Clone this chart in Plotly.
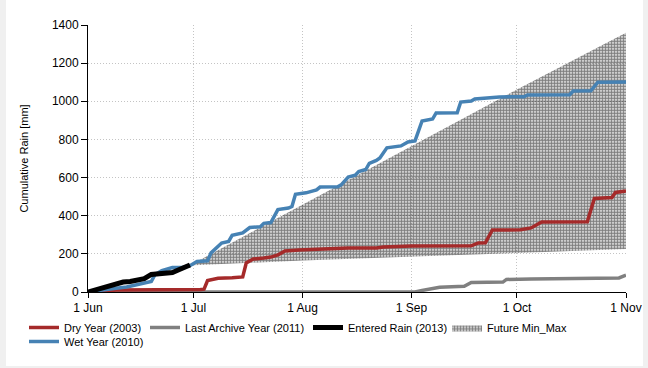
import plotly.graph_objects as go

# ---------------- data ----------------
wet_dates = ["2013-06-01", "2013-06-05", "2013-06-09", "2013-06-12", "2013-06-16", "2013-06-19",
             "2013-06-20", "2013-06-22", "2013-06-25", "2013-06-28", "2013-06-30", "2013-07-02",
             "2013-07-05", "2013-07-06", "2013-07-09", "2013-07-11", "2013-07-12", "2013-07-15",
             "2013-07-17", "2013-07-20", "2013-07-21", "2013-07-23", "2013-07-25", "2013-07-28",
             "2013-07-29", "2013-07-30", "2013-08-02", "2013-08-05", "2013-08-06", "2013-08-11",
             "2013-08-12", "2013-08-14", "2013-08-16", "2013-08-17", "2013-08-19", "2013-08-20",
             "2013-08-22", "2013-08-23", "2013-08-25", "2013-08-29", "2013-08-31", "2013-09-02",
             "2013-09-04", "2013-09-07", "2013-09-08", "2013-09-14", "2013-09-15", "2013-09-18",
             "2013-09-19", "2013-09-26", "2013-10-03", "2013-10-04", "2013-10-16", "2013-10-17",
             "2013-10-22", "2013-10-24", "2013-11-01"]
wet_values = [0, 12, 20, 26, 40, 55, 90, 112, 128, 130, 138, 160, 164, 205, 257, 265, 298, 310,
              338, 342, 360, 364, 432, 440, 448, 512, 520, 535, 550, 552, 562, 603, 612, 632, 642,
              675, 690, 703, 756, 766, 787, 792, 897, 907, 939, 940, 996, 1001, 1012, 1023, 1024,
              1033, 1034, 1054, 1055, 1100, 1101]

dry_dates = ["2013-06-01", "2013-06-06", "2013-06-09", "2013-07-03", "2013-07-04", "2013-07-05",
             "2013-07-08", "2013-07-12", "2013-07-15", "2013-07-16", "2013-07-18", "2013-07-21",
             "2013-07-23", "2013-07-25", "2013-07-27", "2013-07-31", "2013-08-08", "2013-08-14",
             "2013-08-22", "2013-08-24", "2013-09-01", "2013-09-18", "2013-09-20", "2013-09-22",
             "2013-09-24", "2013-10-02", "2013-10-05", "2013-10-08", "2013-10-21", "2013-10-23",
             "2013-10-28", "2013-10-29", "2013-11-01"]
dry_values = [0, 5, 10, 13, 15, 60, 72, 75, 79, 152, 173, 178, 183, 194, 215, 220, 225, 231,
              231, 236, 241, 242, 257, 258, 325, 326, 336, 367, 368, 490, 495, 522, 530]

archive_dates = ["2013-06-01", "2013-09-02", "2013-09-04", "2013-09-06", "2013-09-09", "2013-09-16",
                 "2013-09-18", "2013-09-27", "2013-09-28", "2013-10-05", "2013-10-16", "2013-10-30",
                 "2013-11-01"]
archive_values = [0, 0, 8, 15, 25, 30, 50, 52, 66, 68, 72, 74, 88]

entered_dates = ["2013-06-01", "2013-06-03", "2013-06-05", "2013-06-07", "2013-06-09", "2013-06-11",
                 "2013-06-13", "2013-06-15", "2013-06-17", "2013-06-19", "2013-06-21", "2013-06-23",
                 "2013-06-25", "2013-06-27", "2013-06-29", "2013-06-30"]
entered_values = [0, 10, 25, 35, 40, 52, 55, 62, 70, 92, 97, 100, 102, 118, 130, 142]

band_dates = ["2013-07-01", "2013-08-01", "2013-09-01", "2013-10-01", "2013-11-01"]
band_upper = [150, 458, 765, 1062, 1360]
band_lower = [140, 165, 185, 205, 225]

y_ticks = [0, 200, 400, 600, 800, 1000, 1200, 1400]
x_ticks = ["2013-06-01", "2013-07-01", "2013-08-01", "2013-09-01", "2013-10-01", "2013-11-01"]
x_tick_labels = ["1 Jun", "1 Jul", "1 Aug", "1 Sep", "1 Oct", "1 Nov"]

# ---------------- layout geometry ----------------
W, H = 648, 368
L, R, T, B = 88, 22, 25, 76
PW, PH = W - L - R, H - T - B

def px_x(p):
    return (p - L) / PW

def px_y(p):
    return (H - B - p) / PH

FONT = "Liberation Sans, Arial, sans-serif"

fig = go.Figure()

fig.add_trace(go.Scatter(
    x=band_dates + band_dates[::-1], y=band_upper + band_lower[::-1],
    fill="toself", mode="lines", line=dict(width=0, color="black"),
    fillcolor="rgba(0,0,0,0)",
    fillpattern=dict(shape=".", size=3, solidity=0.7, fgcolor="black", bgcolor="rgba(255,255,255,0)"),
    name="Future Min_Max", legend="legend5", hoverinfo="skip"))

fig.add_trace(go.Scatter(x=archive_dates, y=archive_values, mode="lines",
                         line=dict(color="#808080", width=3.5), name="Last Archive Year (2011)",
                         legend="legend3"))
fig.add_trace(go.Scatter(x=dry_dates, y=dry_values, mode="lines",
                         line=dict(color="#A52A2A", width=3.5), name="Dry Year (2003)",
                         legend="legend"))
fig.add_trace(go.Scatter(x=wet_dates, y=wet_values, mode="lines",
                         line=dict(color="#4682B4", width=3.5), name="Wet Year (2010)",
                         legend="legend2"))
fig.add_trace(go.Scatter(x=entered_dates, y=entered_values, mode="lines",
                         line=dict(color="black", width=5), name="Entered Rain (2013)",
                         legend="legend4"))

axis_common = dict(showline=True, linecolor="black", linewidth=1, ticks="outside",
                   tickcolor="black", showgrid=True, gridcolor="#c4c4c4",
                   griddash="1px,2px", gridwidth=1, zeroline=False, automargin=False,
                   tickfont=dict(family=FONT, size=12, color="black"))

def legend_at(text_px, row_px):
    return dict(orientation="h", x=px_x(text_px - 37), xanchor="left", y=px_y(row_px),
                yanchor="top", bgcolor="rgba(0,0,0,0)", font=dict(family=FONT, size=11))

fig.update_layout(
    width=W, height=H,
    margin=dict(l=L, r=R, t=T, b=B, autoexpand=False),
    paper_bgcolor="#f0f0f0", plot_bgcolor="white",
    font=dict(family=FONT, size=11, color="black"),
    showlegend=True,
    xaxis=dict(range=["2013-06-01", "2013-11-01"], tickvals=x_ticks, ticktext=x_tick_labels,
               ticklen=5, **axis_common),
    yaxis=dict(range=[0, 1400], tickvals=y_ticks,
               title=dict(text="Cumulative Rain [mm]", font=dict(family=FONT, size=11), standoff=21),
               ticklen=6, **axis_common),
    legend=legend_at(61, 313),
    legend3=legend_at(182, 313),
    legend4=legend_at(345, 313),
    legend5=legend_at(484, 313),
    legend2=legend_at(61, 327),
    shapes=[dict(type="rect", xref="paper", yref="paper", layer="below",
                 x0=px_x(6), x1=px_x(643), y0=px_y(366), y1=px_y(0),
                 fillcolor="white", line=dict(width=0))],
)

fig.write_html("out.html", config={"displayModeBar": False},
               post_script="document.body.style.margin='0px';document.body.style.padding='0px';")
